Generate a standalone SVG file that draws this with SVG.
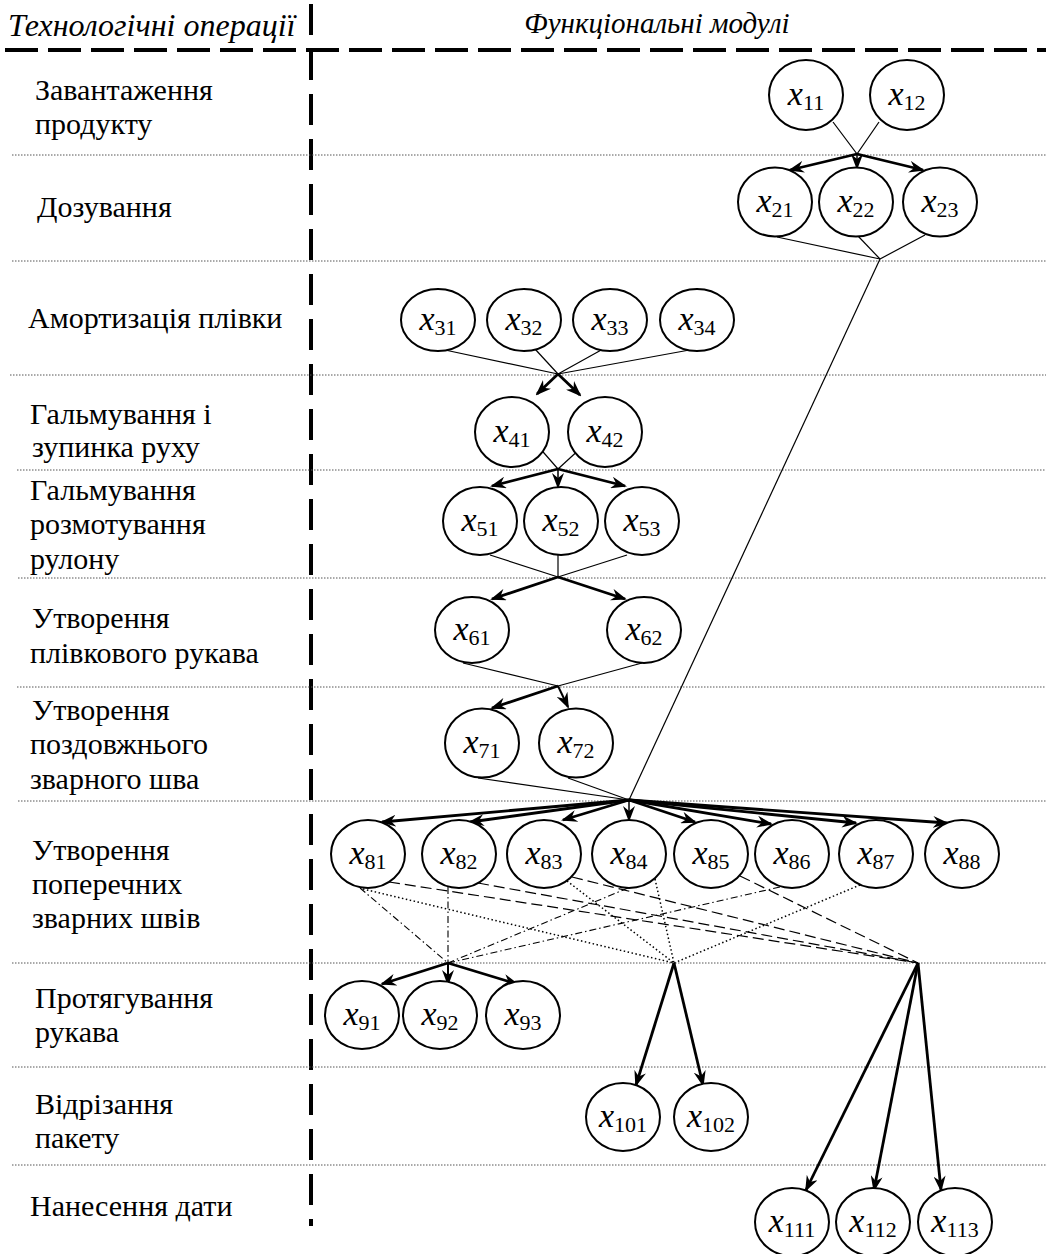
<svg xmlns="http://www.w3.org/2000/svg" width="1046" height="1254" viewBox="0 0 1046 1254">
<style>
.bg{fill:#fff}
.sep{stroke:#555;stroke-width:1;stroke-dasharray:1.5 1.5;fill:none}
.hdr{stroke:#000;stroke-width:4;stroke-dasharray:33 10;fill:none}
.vdiv{stroke:#000;stroke-width:4;stroke-dasharray:31 14;fill:none}
.op{font-family:"Liberation Serif","Times New Roman",serif;font-size:30px;fill:#000}
.head{font-family:"Liberation Serif","Times New Roman",serif;font-size:30px;font-style:italic;fill:#000}
.node ellipse{fill:#fff;stroke:#000;stroke-width:2}
.lbl{font-family:"Liberation Serif","Times New Roman",serif;fill:#000;text-anchor:middle}
.v{font-style:italic;font-size:34px}
.s{font-size:22px}
.thin{stroke:#000;stroke-width:1.2;fill:none}
.thick{stroke:#000;stroke-width:2.8;fill:none;marker-end:url(#ah)}
.mid{stroke:#000;stroke-width:1.5;fill:none;marker-end:url(#ah)}
.dd{stroke:#000;stroke-width:1.1;fill:none;stroke-dasharray:7 3 1.5 3}
.dt{stroke:#000;stroke-width:1.5;fill:none;stroke-dasharray:1.5 2.5}
.ds{stroke:#000;stroke-width:1.2;fill:none;stroke-dasharray:11 5}
</style>
<defs>
<marker id="ah" markerUnits="userSpaceOnUse" viewBox="0 0 16 12" markerWidth="16" markerHeight="12" refX="14" refY="6" orient="auto">
<path d="M0,0 L16,6 L0,12 L5,6 Z" fill="#000"/>
</marker>
</defs>
<rect class="bg" x="0" y="0" width="1046" height="1254"/>

<g id="grid">
<line class="hdr" x1="5" y1="50" x2="1046" y2="50"/>
<line class="vdiv" x1="311" y1="4" x2="311" y2="1226"/>
<line class="sep" x1="12" y1="155" x2="1046" y2="155"/>
<line class="sep" x1="12" y1="261" x2="1046" y2="261"/>
<line class="sep" x1="10" y1="375" x2="1046" y2="375"/>
<line class="sep" x1="17" y1="470" x2="1046" y2="470"/>
<line class="sep" x1="18" y1="578" x2="1046" y2="578"/>
<line class="sep" x1="17" y1="687" x2="1046" y2="687"/>
<line class="sep" x1="18" y1="801" x2="1046" y2="801"/>
<line class="sep" x1="12" y1="963" x2="1046" y2="963"/>
<line class="sep" x1="12" y1="1067" x2="1046" y2="1067"/>
<line class="sep" x1="12" y1="1165" x2="1046" y2="1165"/>
</g>

<g id="headers">
<text class="head" x="8" y="36" style="font-size:32px">Технологічні операції</text>
<text class="head" x="657" y="33" text-anchor="middle" style="font-size:29px">Функціональні модулі</text>
</g>

<g id="operations">
<text class="op" x="35" y="100">Завантаження</text>
<text class="op" x="35" y="134">продукту</text>
<text class="op" x="37" y="217">Дозування</text>
<text class="op" x="28" y="328">Амортизація плівки</text>
<text class="op" x="30" y="424">Гальмування і</text>
<text class="op" x="32" y="457">зупинка руху</text>
<text class="op" x="30" y="500">Гальмування</text>
<text class="op" x="30" y="534">розмотування</text>
<text class="op" x="30" y="569">рулону</text>
<text class="op" x="32" y="628">Утворення</text>
<text class="op" x="30" y="663">плівкового рукава</text>
<text class="op" x="32" y="720">Утворення</text>
<text class="op" x="30" y="754">поздовжнього</text>
<text class="op" x="30" y="789">зварного шва</text>
<text class="op" x="32" y="860">Утворення</text>
<text class="op" x="32" y="894">поперечних</text>
<text class="op" x="32" y="928">зварних швів</text>
<text class="op" x="35" y="1008">Протягування</text>
<text class="op" x="35" y="1042">рукава</text>
<text class="op" x="35" y="1114">Відрізання</text>
<text class="op" x="35" y="1148">пакету</text>
<text class="op" x="30" y="1216">Нанесення дати</text>
</g>

<g id="connectors">
<line class="thin" x1="833" y1="122" x2="857" y2="154"/>
<line class="thin" x1="879" y1="122" x2="857" y2="154"/>
<line class="thick" x1="857" y1="154" x2="790" y2="170"/>
<line class="mid" x1="857" y1="154" x2="857" y2="168"/>
<line class="thick" x1="857" y1="154" x2="923" y2="170"/>
<line class="thin" x1="777" y1="237" x2="880" y2="259"/>
<line class="thin" x1="858" y1="236" x2="880" y2="259"/>
<line class="thin" x1="925" y1="235" x2="880" y2="259"/>
<line class="thin" x1="880" y1="259" x2="629" y2="800"/>
<line class="thin" x1="445" y1="350" x2="558" y2="374"/>
<line class="thin" x1="535" y1="349" x2="558" y2="374"/>
<line class="thin" x1="603" y1="349" x2="558" y2="374"/>
<line class="thin" x1="695" y1="349" x2="558" y2="374"/>
<line class="thick" x1="558" y1="374" x2="537" y2="394"/>
<line class="thick" x1="558" y1="374" x2="580" y2="395"/>
<line class="thin" x1="537" y1="445" x2="558" y2="469"/>
<line class="thin" x1="582" y1="447" x2="558" y2="469"/>
<line class="thick" x1="558" y1="469" x2="492" y2="486"/>
<line class="mid" x1="558" y1="469" x2="558" y2="487"/>
<line class="thick" x1="558" y1="469" x2="625" y2="486"/>
<line class="thin" x1="490" y1="555" x2="558" y2="577"/>
<line class="thin" x1="558" y1="555" x2="558" y2="577"/>
<line class="thin" x1="627" y1="555" x2="558" y2="577"/>
<line class="thick" x1="558" y1="577" x2="492" y2="599"/>
<line class="thick" x1="558" y1="577" x2="625" y2="599"/>
<line class="thin" x1="463" y1="663" x2="558" y2="686"/>
<line class="thin" x1="642" y1="663" x2="558" y2="686"/>
<line class="thick" x1="558" y1="686" x2="492" y2="708"/>
<line class="thick" x1="558" y1="686" x2="568" y2="707" style="stroke-width:2"/>
<line class="thin" x1="478" y1="778" x2="629" y2="800"/>
<line class="thin" x1="568" y1="778" x2="629" y2="800"/>
<line class="thick" x1="629" y1="800" x2="382" y2="822"/>
<line class="thick" x1="629" y1="800" x2="470" y2="822"/>
<line class="thick" x1="629" y1="800" x2="563" y2="820"/>
<line class="mid" x1="629" y1="800" x2="629" y2="820"/>
<line class="thick" x1="629" y1="800" x2="695" y2="822"/>
<line class="thick" x1="629" y1="800" x2="771" y2="824"/>
<line class="thick" x1="629" y1="800" x2="856" y2="823"/>
<line class="thick" x1="629" y1="800" x2="947" y2="823"/>
<line class="dd" x1="360" y1="888" x2="448" y2="963"/>
<line class="dd" x1="448" y1="887" x2="448" y2="963"/>
<line class="dd" x1="628" y1="888" x2="448" y2="963"/>
<line class="dd" x1="780" y1="887" x2="448" y2="963"/>
<line class="dt" x1="363" y1="889" x2="674" y2="963"/>
<line class="dt" x1="567" y1="881" x2="674" y2="963"/>
<line class="dt" x1="655" y1="879" x2="674" y2="963"/>
<line class="dt" x1="860" y1="885" x2="674" y2="963"/>
<line class="ds" x1="389" y1="882" x2="918" y2="963"/>
<line class="ds" x1="478" y1="883" x2="918" y2="963"/>
<line class="ds" x1="572" y1="877" x2="918" y2="963"/>
<line class="ds" x1="740" y1="876" x2="918" y2="963"/>
<line class="thick" x1="448" y1="963" x2="382" y2="984"/>
<line class="thick" x1="448" y1="963" x2="448" y2="984" style="stroke-width:2"/>
<line class="thick" x1="448" y1="963" x2="517" y2="984"/>
<line class="thick" x1="674" y1="963" x2="636" y2="1085"/>
<line class="thick" x1="674" y1="963" x2="703" y2="1085"/>
<line class="thick" x1="918" y1="963" x2="806" y2="1190"/>
<line class="thick" x1="918" y1="963" x2="874" y2="1190"/>
<line class="thick" x1="918" y1="963" x2="941" y2="1190"/>
</g>

<g id="x11" class="node"><ellipse cx="806" cy="95" rx="37" ry="35"/><text class="lbl" x="806" y="105"><tspan class="v">x</tspan><tspan class="s" dy="5">11</tspan></text></g>
<g id="x12" class="node"><ellipse cx="907" cy="95" rx="37" ry="35"/><text class="lbl" x="907" y="105"><tspan class="v">x</tspan><tspan class="s" dy="5">12</tspan></text></g>
<g id="x21" class="node"><ellipse cx="775" cy="202" rx="37" ry="34.5"/><text class="lbl" x="775" y="212"><tspan class="v">x</tspan><tspan class="s" dy="5">21</tspan></text></g>
<g id="x22" class="node"><ellipse cx="856" cy="202" rx="37" ry="34.5"/><text class="lbl" x="856" y="212"><tspan class="v">x</tspan><tspan class="s" dy="5">22</tspan></text></g>
<g id="x23" class="node"><ellipse cx="940" cy="202" rx="37" ry="34.5"/><text class="lbl" x="940" y="212"><tspan class="v">x</tspan><tspan class="s" dy="5">23</tspan></text></g>
<g id="x31" class="node"><ellipse cx="438" cy="320" rx="37" ry="31"/><text class="lbl" x="438" y="330"><tspan class="v">x</tspan><tspan class="s" dy="5">31</tspan></text></g>
<g id="x32" class="node"><ellipse cx="524" cy="320" rx="37" ry="31"/><text class="lbl" x="524" y="330"><tspan class="v">x</tspan><tspan class="s" dy="5">32</tspan></text></g>
<g id="x33" class="node"><ellipse cx="610" cy="320" rx="37" ry="31"/><text class="lbl" x="610" y="330"><tspan class="v">x</tspan><tspan class="s" dy="5">33</tspan></text></g>
<g id="x34" class="node"><ellipse cx="697" cy="320" rx="37" ry="31"/><text class="lbl" x="697" y="330"><tspan class="v">x</tspan><tspan class="s" dy="5">34</tspan></text></g>
<g id="x41" class="node"><ellipse cx="512" cy="432" rx="37" ry="35"/><text class="lbl" x="512" y="442"><tspan class="v">x</tspan><tspan class="s" dy="5">41</tspan></text></g>
<g id="x42" class="node"><ellipse cx="605" cy="432" rx="37" ry="35"/><text class="lbl" x="605" y="442"><tspan class="v">x</tspan><tspan class="s" dy="5">42</tspan></text></g>
<g id="x51" class="node"><ellipse cx="480" cy="521" rx="37" ry="34"/><text class="lbl" x="480" y="531"><tspan class="v">x</tspan><tspan class="s" dy="5">51</tspan></text></g>
<g id="x52" class="node"><ellipse cx="561" cy="521" rx="37" ry="34"/><text class="lbl" x="561" y="531"><tspan class="v">x</tspan><tspan class="s" dy="5">52</tspan></text></g>
<g id="x53" class="node"><ellipse cx="642" cy="521" rx="37" ry="34"/><text class="lbl" x="642" y="531"><tspan class="v">x</tspan><tspan class="s" dy="5">53</tspan></text></g>
<g id="x61" class="node"><ellipse cx="472" cy="630" rx="37" ry="33"/><text class="lbl" x="472" y="640"><tspan class="v">x</tspan><tspan class="s" dy="5">61</tspan></text></g>
<g id="x62" class="node"><ellipse cx="644" cy="630" rx="37" ry="33"/><text class="lbl" x="644" y="640"><tspan class="v">x</tspan><tspan class="s" dy="5">62</tspan></text></g>
<g id="x71" class="node"><ellipse cx="482" cy="743" rx="37" ry="34.5"/><text class="lbl" x="482" y="753"><tspan class="v">x</tspan><tspan class="s" dy="5">71</tspan></text></g>
<g id="x72" class="node"><ellipse cx="576" cy="743" rx="37" ry="34.5"/><text class="lbl" x="576" y="753"><tspan class="v">x</tspan><tspan class="s" dy="5">72</tspan></text></g>
<g id="x81" class="node"><ellipse cx="368" cy="854" rx="37" ry="34"/><text class="lbl" x="368" y="864"><tspan class="v">x</tspan><tspan class="s" dy="5">81</tspan></text></g>
<g id="x82" class="node"><ellipse cx="459" cy="854" rx="37" ry="34"/><text class="lbl" x="459" y="864"><tspan class="v">x</tspan><tspan class="s" dy="5">82</tspan></text></g>
<g id="x83" class="node"><ellipse cx="544" cy="854" rx="37" ry="34"/><text class="lbl" x="544" y="864"><tspan class="v">x</tspan><tspan class="s" dy="5">83</tspan></text></g>
<g id="x84" class="node"><ellipse cx="629" cy="854" rx="37" ry="34"/><text class="lbl" x="629" y="864"><tspan class="v">x</tspan><tspan class="s" dy="5">84</tspan></text></g>
<g id="x85" class="node"><ellipse cx="711" cy="854" rx="37" ry="34"/><text class="lbl" x="711" y="864"><tspan class="v">x</tspan><tspan class="s" dy="5">85</tspan></text></g>
<g id="x86" class="node"><ellipse cx="792" cy="854" rx="37" ry="34"/><text class="lbl" x="792" y="864"><tspan class="v">x</tspan><tspan class="s" dy="5">86</tspan></text></g>
<g id="x87" class="node"><ellipse cx="876" cy="854" rx="37" ry="34"/><text class="lbl" x="876" y="864"><tspan class="v">x</tspan><tspan class="s" dy="5">87</tspan></text></g>
<g id="x88" class="node"><ellipse cx="962" cy="854" rx="37" ry="34"/><text class="lbl" x="962" y="864"><tspan class="v">x</tspan><tspan class="s" dy="5">88</tspan></text></g>
<g id="x91" class="node"><ellipse cx="362" cy="1015" rx="37" ry="34"/><text class="lbl" x="362" y="1025"><tspan class="v">x</tspan><tspan class="s" dy="5">91</tspan></text></g>
<g id="x92" class="node"><ellipse cx="440" cy="1015" rx="37" ry="34"/><text class="lbl" x="440" y="1025"><tspan class="v">x</tspan><tspan class="s" dy="5">92</tspan></text></g>
<g id="x93" class="node"><ellipse cx="523" cy="1015" rx="37" ry="34"/><text class="lbl" x="523" y="1025"><tspan class="v">x</tspan><tspan class="s" dy="5">93</tspan></text></g>
<g id="x101" class="node"><ellipse cx="623" cy="1117" rx="37" ry="34"/><text class="lbl" x="623" y="1127"><tspan class="v">x</tspan><tspan class="s" dy="5">101</tspan></text></g>
<g id="x102" class="node"><ellipse cx="711" cy="1117" rx="37" ry="34"/><text class="lbl" x="711" y="1127"><tspan class="v">x</tspan><tspan class="s" dy="5">102</tspan></text></g>
<g id="x111" class="node"><ellipse cx="792" cy="1222" rx="37" ry="34"/><text class="lbl" x="792" y="1232"><tspan class="v">x</tspan><tspan class="s" dy="5">111</tspan></text></g>
<g id="x112" class="node"><ellipse cx="873" cy="1222" rx="37" ry="34"/><text class="lbl" x="873" y="1232"><tspan class="v">x</tspan><tspan class="s" dy="5">112</tspan></text></g>
<g id="x113" class="node"><ellipse cx="955" cy="1222" rx="37" ry="34"/><text class="lbl" x="955" y="1232"><tspan class="v">x</tspan><tspan class="s" dy="5">113</tspan></text></g>
</svg>
